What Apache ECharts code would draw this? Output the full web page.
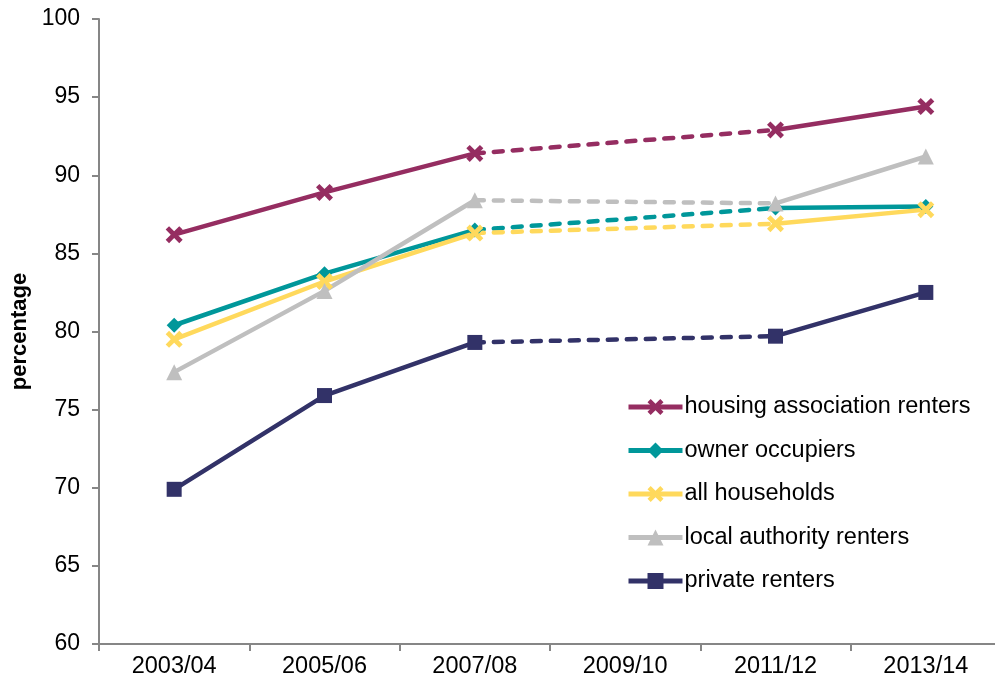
<!DOCTYPE html>
<html>
<head>
<meta charset="utf-8">
<script src="https://cdn.jsdelivr.net/npm/echarts@6/dist/echarts.min.js"></script>
<style>
  html, body { margin: 0; padding: 0; background: #fff; }
  #chart { width: 995px; height: 686px; }
</style>
</head>
<body>
<div id="chart"></div>
<script>
// Survey years (2009/10 has no reading; the gap is bridged with a dashed line)
const years = ['2003/04', '2005/06', '2007/08', '2009/10', '2011/12', '2013/14'];

const housingAssociation = [86.2, 88.9, 91.4, null, 92.9, 94.4];
const ownerOccupiers     = [80.4, 83.7, 86.5, null, 87.9, 88.0];
const allHouseholds      = [79.5, 83.2, 86.3, null, 86.9, 87.8];
const localAuthority     = [77.4, 82.6, 88.4, null, 88.2, 91.2];
const privateRenters     = [69.9, 75.9, 79.3, null, 79.7, 82.5];

const yTicks = { min: 60, max: 100, step: 5 };

const CROSS = 'path://M2,0L5,3L8,0L10,2L7,5L10,8L8,10L5,7L2,10L0,8L3,5L0,2Z';

const groups = [
  { name: 'housing association renters', data: housingAssociation, color: '#952D61', symbol: CROSS, size: 17 },
  { name: 'owner occupiers', data: ownerOccupiers, color: '#00979A', symbol: 'diamond', size: 15 },
  { name: 'all households', data: allHouseholds, color: '#FFD95C', symbol: CROSS, size: 17 },
  { name: 'local authority renters', data: localAuthority, color: '#BFBFBF', symbol: 'triangle', size: 16 },
  { name: 'private renters', data: privateRenters, color: '#323268', symbol: 'rect', size: 15 }
];

const series = [];
groups.forEach(g => {
  // dashed bridge across the missing year
  const bridge = g.data.map((v, i) => (i === 2 || i === 4) ? v : null);
  series.push({
    name: g.name + ' (bridge)',
    type: 'line',
    data: bridge,
    connectNulls: true,
    showSymbol: false,
    symbol: 'none',
    silent: true,
    lineStyle: { color: g.color, width: 4.5, type: [9, 10], cap: 'round' },
    itemStyle: { color: g.color },
    z: 2
  });
  series.push({
    name: g.name,
    type: 'line',
    data: g.data,
    connectNulls: false,
    symbol: g.symbol,
    symbolSize: g.size,
    showAllSymbol: true,
    lineStyle: { color: g.color, width: 4.5 },
    itemStyle: { color: g.color, borderWidth: 0 },
    z: 3
  });
});

const chart = echarts.init(document.getElementById('chart'), null, { renderer: 'canvas' });
chart.setOption({
  animation: false,
  backgroundColor: '#ffffff',
  textStyle: { fontFamily: 'Liberation Sans, Arial, sans-serif' },
  grid: { left: 99, top: 19, width: 902, height: 625, containLabel: false, outerBoundsMode: 'none' },
  legend: {
    data: groups.map(g => g.name),
    orient: 'vertical',
    left: 626,
    top: 395,
    padding: 0,
    itemWidth: 54,
    itemHeight: 20,
    itemGap: 19.5,
    lineStyle: { width: 5 },
    textStyle: { fontSize: 23.5, color: '#000', lineHeight: 23, padding: [0, 0, 0, -3] }
  },
  xAxis: {
    type: 'category',
    data: years,
    boundaryGap: true,
    axisLine: { lineStyle: { color: '#868686', width: 2 } },
    axisTick: { show: true, length: 7, interval: 0, lineStyle: { color: '#868686', width: 2 } },
    axisLabel: { fontSize: 23.5, color: '#000', margin: 11, interval: 0 },
    splitLine: { show: false }
  },
  yAxis: {
    type: 'value',
    min: yTicks.min,
    max: yTicks.max,
    interval: yTicks.step,
    name: 'percentage',
    nameLocation: 'middle',
    nameRotate: 90,
    nameGap: 64,
    nameTextStyle: { fontSize: 22, fontWeight: 'bold', color: '#000' },
    axisLine: { show: true, lineStyle: { color: '#868686', width: 2 } },
    axisTick: { show: true, length: 7, lineStyle: { color: '#868686', width: 2 } },
    axisLabel: { fontSize: 23, color: '#000', margin: 19 },
    splitLine: { show: false }
  },
  series: series
});
</script>
</body>
</html>
